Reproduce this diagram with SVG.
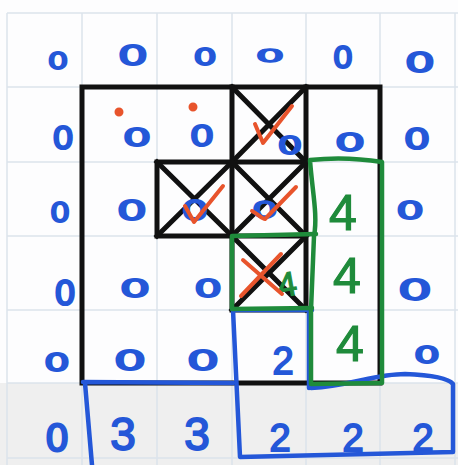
<svg xmlns="http://www.w3.org/2000/svg" width="458" height="465" viewBox="0 0 458 465">
<style>
.grid{stroke:#dce3eb;stroke-width:1.5;fill:none}
.blk{stroke:#111;stroke-width:5;fill:none;stroke-linecap:square}
.grn{stroke:#1f8b3b;stroke-width:4.5;fill:none;stroke-linecap:round;stroke-linejoin:round}
.blu{stroke:#2457d8;stroke-width:4.5;fill:none;stroke-linecap:round;stroke-linejoin:round}
.red{stroke:#e8542c;stroke-width:4;fill:none;stroke-linecap:round;stroke-linejoin:round}
.z{font-family:"DejaVu Sans",sans-serif;fill:#2457d8;stroke:#2457d8;stroke-width:2.2;text-anchor:middle}
.d{font-family:"Liberation Sans",sans-serif;fill:#2457d8;stroke:#2457d8;stroke-width:1.8;text-anchor:middle}
.g{font-family:"Liberation Sans",sans-serif;fill:#1f8b3b;stroke:#1f8b3b;stroke-width:1.2;text-anchor:middle}
</style>
<rect x="0" y="0" width="458" height="465" fill="#fdfdfe"/>
<rect x="0" y="383" width="458" height="82" fill="#efefef"/>
<g id="grid" class="grid">
<path d="M7,13V465M82,13V465M157,13V465M232,13V465M306,13V465M380,13V465M455,13V465"/>
<path d="M7,13H458M7,87H458M7,162H458M7,236H458M7,310H458M7,383H458M7,458H458"/>
</g>
<g id="black-boxes" class="blk">
<path d="M82,87H380V383H82Z"/>
<path d="M232,87V310M306,87V310M157,162V236M157,162H306M157,236H306M232,310H306"/>
<path d="M232,87L306,162M306,87L232,162"/>
<path d="M157,162L232,236M232,162L157,236"/>
<path d="M232,162L306,236M306,162L232,236"/>
<path d="M232,236L306,310M306,236L232,310"/>
</g>
<g id="row0">
<text class="z" font-size="28" transform="translate(58,60) scale(1.15,0.85)" y="10">0</text>
<text class="z" font-size="34" transform="translate(133,55) scale(1.4,0.8)" y="12">0</text>
<text class="z" font-size="28" transform="translate(205,56) scale(1.3,0.85)" y="10">0</text>
<text class="z" font-size="28" transform="translate(270,55) scale(1.6,0.65)" y="10">0</text>
<text class="z" font-size="32" transform="translate(343,57) scale(1.0,0.95)" y="12">0</text>
<text class="z" font-size="34" transform="translate(420,62) scale(1.4,0.8)" y="12">0</text>
</g>
<g id="row1">
<text class="z" font-size="34" transform="translate(63,138) scale(1.0,0.95)" y="12">0</text>
<text class="z" font-size="32" transform="translate(137,136) scale(1.4,0.8)" y="12">0</text>
<text class="z" font-size="32" transform="translate(202,135) scale(1.2,0.9)" y="12">0</text>
<text class="z" font-size="30" transform="translate(290,145) scale(1.3,0.8)" y="11">0</text>
<text class="z" font-size="32" transform="translate(350,141) scale(1.5,0.8)" y="12">0</text>
<text class="z" font-size="32" transform="translate(417,138) scale(1.3,0.9)" y="12">0</text>
</g>
<g id="row2">
<text class="z" font-size="30" transform="translate(60,212) scale(1.05,0.9)" y="11">0</text>
<text class="z" font-size="34" transform="translate(132,210) scale(1.4,0.8)" y="12">0</text>
<text class="z" font-size="34" transform="translate(195,210) scale(1.25,0.8)" y="12">0</text>
<text class="z" font-size="30" transform="translate(265,210) scale(1.35,0.75)" y="11">0</text>
<text class="g" font-size="50" x="343" y="230">4</text>
<text class="z" font-size="30" transform="translate(410,210) scale(1.45,0.8)" y="11">0</text>
</g>
<g id="row3">
<text class="z" font-size="34" transform="translate(65,293) scale(1.0,1)" y="12">0</text>
<text class="z" font-size="32" transform="translate(135,287) scale(1.5,0.8)" y="12">0</text>
<text class="z" font-size="30" transform="translate(208,288) scale(1.45,0.8)" y="11">0</text>
<text class="g" font-size="34" transform="translate(287,284) rotate(-10)" y="12">4</text>
<text class="g" font-size="50" x="347" y="293">4</text>
<text class="z" font-size="36" transform="translate(415,290) scale(1.5,0.8)" y="13">0</text>
</g>
<g id="row4">
<text class="z" font-size="30" transform="translate(57,362) scale(1.35,0.85)" y="11">0</text>
<text class="z" font-size="34" transform="translate(130,360) scale(1.5,0.8)" y="12">0</text>
<text class="z" font-size="34" transform="translate(203,360) scale(1.5,0.8)" y="12">0</text>
<text class="d" font-size="38" x="283" y="374">2</text>
<text class="g" font-size="50" x="350" y="361">4</text>
<text class="z" font-size="28" transform="translate(427,355) scale(1.45,0.8)" y="10">0</text>
</g>
<g id="row5">
<text class="z" font-size="38" transform="translate(57,437) scale(1.0,1.0)" y="14">0</text>
<text class="d" font-size="46" x="123" y="450">3</text>
<text class="d" font-size="46" x="197" y="450">3</text>
<text class="d" font-size="38" x="280" y="451">2</text>
<text class="d" font-size="38" x="353" y="451">2</text>
<text class="d" font-size="38" x="423" y="451">2</text>
</g>
<g id="red-marks" class="red">
<path d="M255,124L263,143L292,106"/>
<path d="M185,206L194,222L223,186"/>
<path d="M252,211C258,214 262,219 265,219L296,187"/>
<path d="M243,260L282,294M281,254L241,296"/>
<circle cx="119" cy="112" r="2.5" fill="#e8542c"/>
<circle cx="193" cy="107" r="2.5" fill="#e8542c"/>
</g>
<g id="blue-outlines" class="blu">
<path d="M83,382L233,383M85,383L92,465"/>
<path d="M309,312L309,388"/>
<path d="M233,310L312,310"/>
<path d="M233,310L240,457L453,452L453,384C448,378 432,375 405,374C375,374 350,386 311,388"/>
</g>
<g id="green-outlines" class="grn">
<path d="M310,160C312,190 318,215 314,236L311,310L311,384L382,383L382,162Q345,156 310,160"/>
<path d="M316,234L232,236L232,309L312,308"/>
</g>
</svg>
